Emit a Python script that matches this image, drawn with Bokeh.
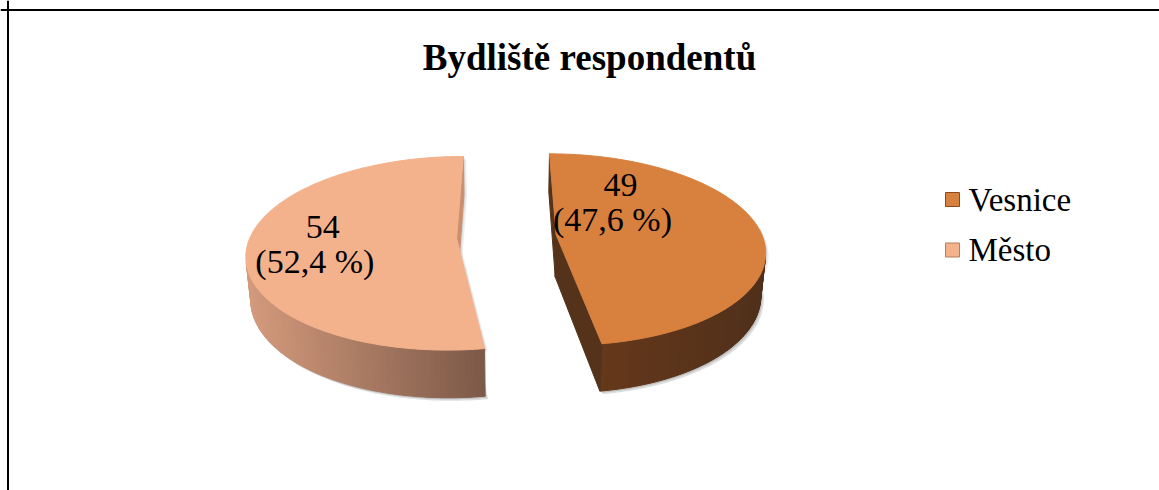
import numpy as np
from bokeh.plotting import figure
from bokeh.models import Range1d, Span
from bokeh.core.properties import value
from bokeh.embed import file_html
from bokeh.resources import INLINE

# ---------------- data ----------------
chart_title = "Bydliště respondentů"
categories = ["Vesnice", "Město"]
counts = [49, 54]

# ---------------- style / layout ----------------
W, H = 1159, 490
FONT = "Liberation Serif"
top_colors = ["#D8803E", "#F4B28C"]
wall_left_colors = ["#6C3B1A", "#D59B7D"]   # wall colour at left end (screen)
wall_right_colors = ["#50301A", "#7C5948"]  # wall colour at right end (screen)
cut_colors = ["#55331A", "#C9906F"]
legend_edge = ["#8A4A1E", "#B87C5E"]
SHADOW = "#9A9A9A"

# camera (perspective) parameters, in pixels of the figure
CX, CY = 506, 236
FOCAL = 1186
PHI = np.radians(27.1)
DIST = 5.75
THICK = 0.235
EXPLODE = 0.242
LABEL_POLAR = [(41.4, 0.49), (264.3, 0.66)]   # angle (deg) / radius inside each slice
LABEL_DX = [4, 4]
LABEL_DY = 17


def project(X, Y, Z):
    s, c = np.sin(PHI), np.cos(PHI)
    yc = Y * c + Z * s
    zc = -Y * s + Z * c + DIST
    return CX + FOCAL * X / zc, CY - FOCAL * yc / zc


cam = np.array([0.0, DIST * np.sin(PHI), -DIST * np.cos(PHI)])


def facing(point, normal):
    return np.dot(cam - np.array(point), np.array(normal)) > 0


p = figure(width=W, height=H, x_range=Range1d(0, W), y_range=Range1d(H, 0),
           output_backend="svg", toolbar_location=None, min_border=0,
           background_fill_color="white", border_fill_color="white")
p.axis.visible = False
p.grid.visible = False
p.outline_line_color = None

total = sum(counts)
fracs = [c / total for c in counts]
starts = np.cumsum([0] + fracs[:-1]) * 2 * np.pi
ends = starts + np.array(fracs) * 2 * np.pi

for i in range(len(counts)):
    t0, t1 = starts[i], ends[i]
    tm = (t0 + t1) / 2
    ox, oz = EXPLODE * np.sin(tm), EXPLODE * np.cos(tm)
    th = np.linspace(t0, t1, 160)
    ax = ox + np.sin(th)
    az = oz + np.cos(th)

    tx, ty = project(ax, np.zeros_like(ax), az)
    bx, by = project(ax, -THICK * np.ones_like(ax), az)
    vx, vy = project(np.array([ox, ox]), np.array([0, -THICK]), np.array([oz, oz]))

    # soft shadow (silhouette offset)
    for (sdx, sdy, alpha) in ((3, 3, 0.18), (1.5, 1.5, 0.25)):
        p.patch(list(np.concatenate([[vx[0]], tx, bx[::-1]]) + sdx),
                list(np.concatenate([[vy[0]], ty, by[::-1]]) + sdy),
                fill_color=SHADOW, fill_alpha=alpha, line_color=None)
        p.patch(list(np.concatenate([[vx[1]], bx]) + sdx), list(np.concatenate([[vy[1]], by]) + sdy),
                fill_color=SHADOW, fill_alpha=alpha, line_color=None)

    # outer wall
    wx, wy, wc = [], [], []
    xmin, xmax = tx.min(), tx.max()
    cl = np.array([int(wall_left_colors[i][k:k + 2], 16) for k in (1, 3, 5)])
    cr = np.array([int(wall_right_colors[i][k:k + 2], 16) for k in (1, 3, 5)])
    for k in range(len(th) - 1):
        tmid = (th[k] + th[k + 1]) / 2
        n = (np.sin(tmid), 0, np.cos(tmid))
        if not facing((ox + np.sin(tmid), 0, oz + np.cos(tmid)), n):
            continue
        wx.append([tx[k], tx[k + 1], bx[k + 1], bx[k]])
        wy.append([ty[k], ty[k + 1], by[k + 1], by[k]])
        f = ((tx[k] + tx[k + 1]) / 2 - xmin) / (xmax - xmin)
        col = (cl * (1 - f) + cr * f).astype(int)
        wc.append("#%02x%02x%02x" % tuple(col))
    if wx:
        p.patches(wx, wy, fill_color=wc, line_color=wc, line_width=1)

    # radial cut faces
    for ta, nd in ((t0, t0 - np.pi / 2), (t1, t1 + np.pi / 2)):
        n = (np.sin(nd), 0, np.cos(nd))
        if not facing((ox, 0, oz), n):
            continue
        ex, ez = ox + np.sin(ta), oz + np.cos(ta)
        qx, qy = project(np.array([ox, ex, ex, ox]), np.array([0, 0, -THICK, -THICK]),
                         np.array([oz, ez, ez, oz]))
        p.patch(list(qx), list(qy), fill_color=cut_colors[i], line_color=cut_colors[i], line_width=1)

    # top face
    fx, fy = project(np.concatenate([[ox], ax]), np.zeros(len(ax) + 1), np.concatenate([[oz], az]))
    p.patch(list(fx), list(fy), fill_color=top_colors[i], line_color=top_colors[i], line_width=1)

    # data labels
    la, lr = LABEL_POLAR[i]
    lx, ly = project(np.array([ox + lr * np.sin(np.radians(la))]), np.zeros(1),
                     np.array([oz + lr * np.cos(np.radians(la))]))
    pct = f"({100 * fracs[i]:.1f} %)".replace(".", ",")
    p.text(x=[lx[0] + LABEL_DX[i]], y=[ly[0] - LABEL_DY], text=[str(counts[i])],
           text_font=value(FONT), text_font_size="34px", text_color="black",
           text_align="center", text_baseline="middle")
    p.text(x=[lx[0] - LABEL_DX[i]], y=[ly[0] + LABEL_DY], text=[pct],
           text_font=value(FONT), text_font_size="34px", text_color="black",
           text_align="center", text_baseline="middle")

# title
p.text(x=[589], y=[57], text=[chart_title], text_font=value(FONT), text_font_size="37px",
       text_font_style="bold", text_color="black", text_align="center", text_baseline="middle")

# legend
LEG_X, LEG_Y0, LEG_DY = 952, 199, 50.5
for i, cat in enumerate(categories):
    yy = LEG_Y0 + i * LEG_DY
    p.rect(x=[LEG_X], y=[yy], width=14, height=14, fill_color=top_colors[i],
           line_color=legend_edge[i], line_width=1)
    p.text(x=[LEG_X + 16], y=[yy], text=[cat], text_font=value(FONT), text_font_size="33px",
           text_color="black", text_align="left", text_baseline="middle")

# frame border (top and left edges visible)
p.add_layout(Span(location=7.5, dimension="height", line_color="black", line_width=2))
p.add_layout(Span(location=9.5, dimension="width", line_color="black", line_width=2))

open("out.html", "w").write(file_html(p, INLINE))
